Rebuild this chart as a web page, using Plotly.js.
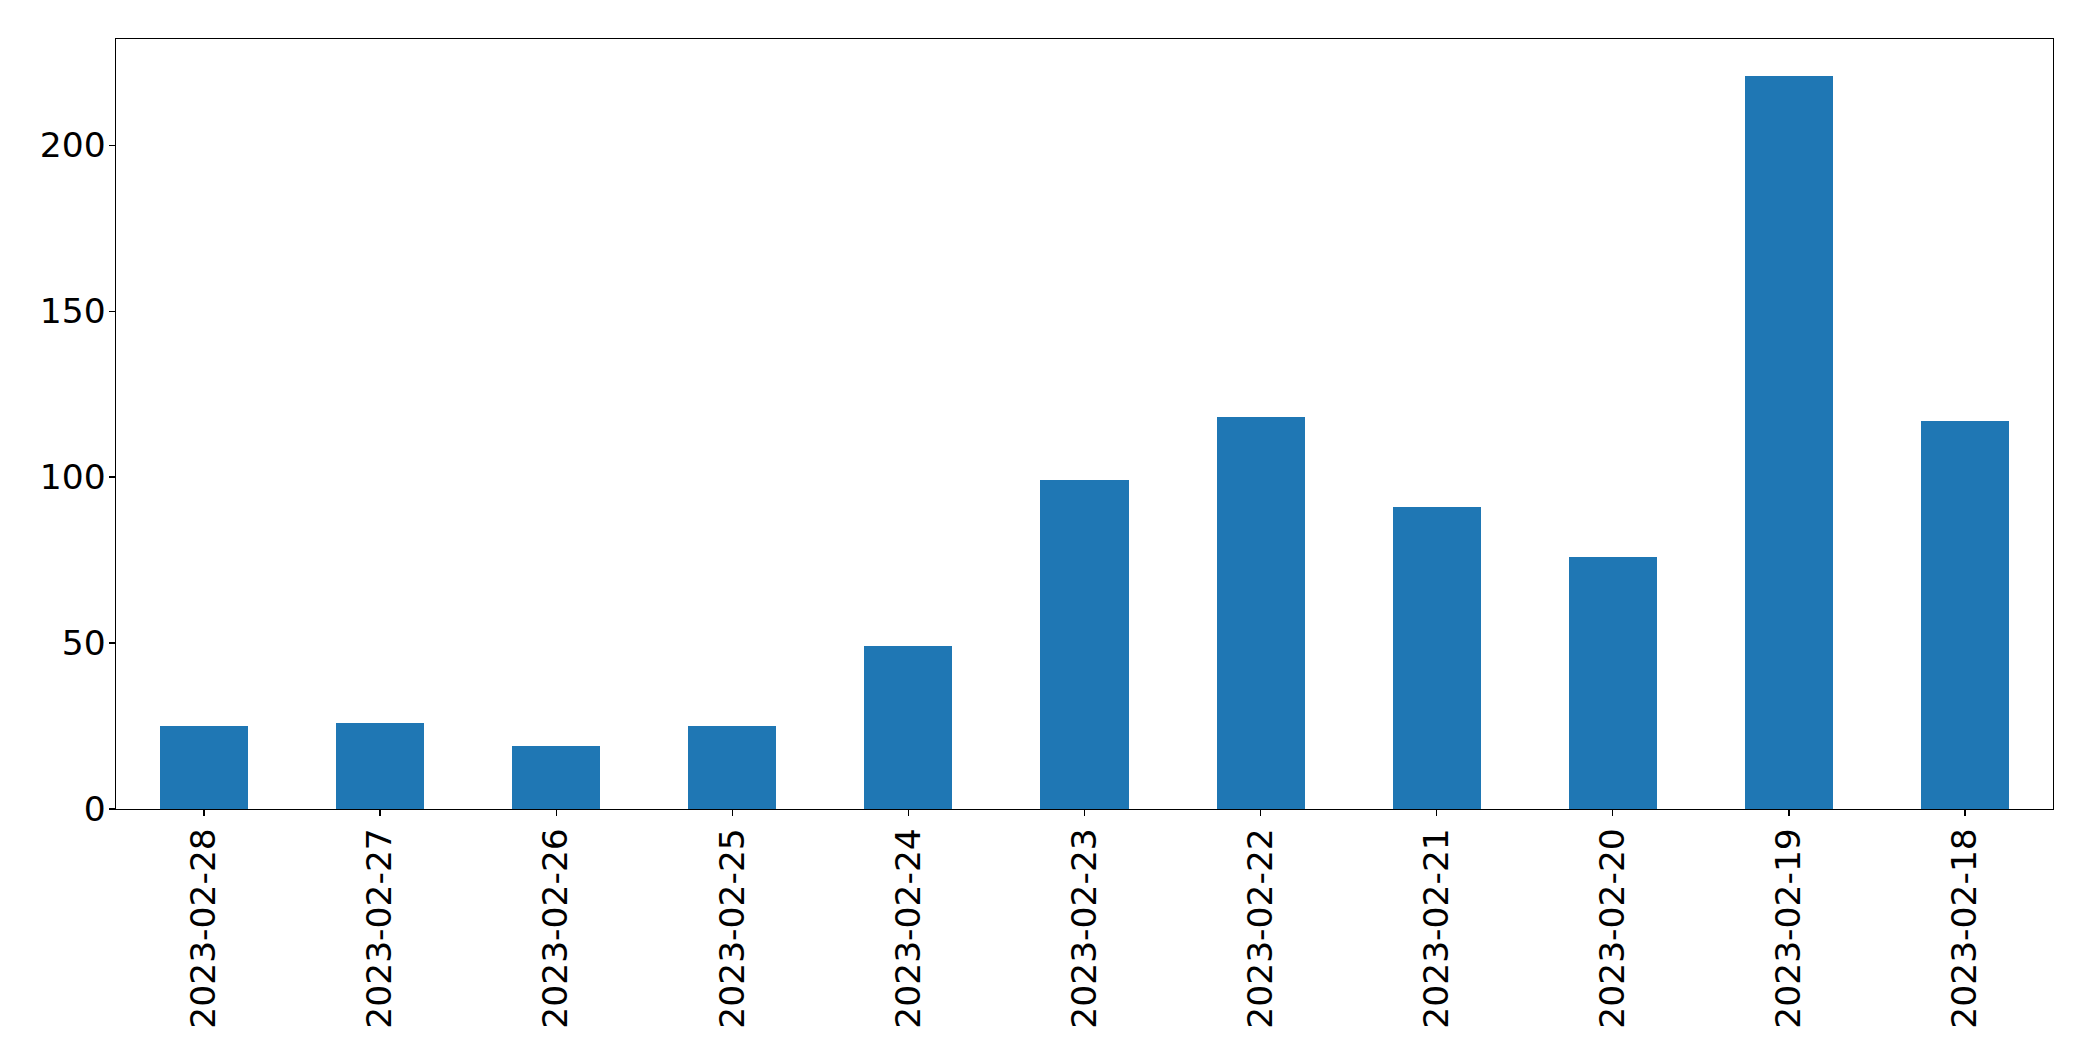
<!DOCTYPE html>
<html>
<head>
<meta charset="utf-8">
<script src="https://cdn.plot.ly/plotly-3.0.1.min.js"></script>
<style>html,body{margin:0;padding:0;background:#fff;}#chart{width:2093px;height:1061px;}</style>
</head>
<body>
<div id="chart"></div>
<script>
const dates = ["2023-02-28","2023-02-27","2023-02-26","2023-02-25","2023-02-24","2023-02-23","2023-02-22","2023-02-21","2023-02-20","2023-02-19","2023-02-18"];
const counts = [25, 26, 19, 25, 49, 99, 118, 91, 76, 221, 117];
const yTicks = [0, 50, 100, 150, 200];

const trace = {
  type: "bar",
  x: dates,
  y: counts,
  width: 0.5,
  marker: {color: "#1f77b4", line: {width: 0}},
  hoverinfo: "x+y"
};

const maxVal = Math.max.apply(null, counts);
const layout = {
  width: 2093,
  height: 1061,
  margin: {l: 116, r: 40, t: 39, b: 252, pad: 0},
  paper_bgcolor: "#ffffff",
  plot_bgcolor: "#ffffff",
  showlegend: false,
  font: {family: "DejaVu Sans", size: 34.5, color: "#000000"},
  bargap: 0,
  xaxis: {
    type: "category",
    range: [-0.5, dates.length - 0.5],
    showline: true, mirror: true, linecolor: "#000000", linewidth: 1.4,
    ticks: "outside", ticklen: 6, tickwidth: 1.4, tickcolor: "#000000",
    tickangle: -90,
    ticklabelstandoff: -2,
    showgrid: false, zeroline: false,
    tickfont: {family: "DejaVu Sans", size: 34.5, color: "#000000"}
  },
  yaxis: {
    range: [0, maxVal * 1.05],
    tickvals: yTicks,
    ticktext: yTicks.map(String),
    showline: true, mirror: true, linecolor: "#000000", linewidth: 1.4,
    ticks: "outside", ticklen: 6, tickwidth: 1.4, tickcolor: "#000000",
    ticklabelstandoff: -4,
    showgrid: false, zeroline: false,
    tickfont: {family: "DejaVu Sans", size: 34.5, color: "#000000"}
  }
};

Plotly.newPlot("chart", [trace], layout, {displayModeBar: false, staticPlot: true});
</script>
</body>
</html>
